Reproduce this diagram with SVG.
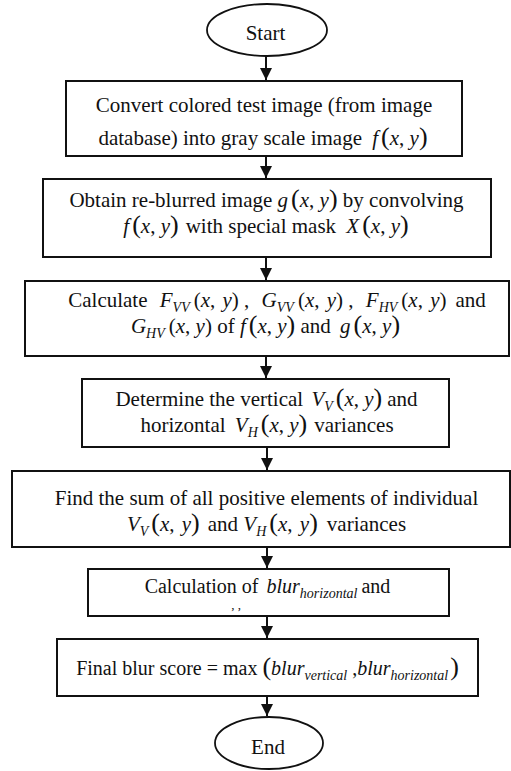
<svg xmlns="http://www.w3.org/2000/svg" width="511" height="771" viewBox="0 0 511 771">
<style>
.bg{fill:#fff}
.box{fill:#fff;stroke:#111;stroke-width:2}
.term{fill:#fff;stroke:#111;stroke-width:1.8}
.t{font-family:"Liberation Serif","Times New Roman",serif;font-size:21px;fill:#111;text-anchor:middle}
.i{font-style:italic}
.p{font-size:26px}
.s{font-size:14px;font-style:italic}
.c{stroke:#111;stroke-width:2;fill:none}
</style>
<defs>
<marker id="ah" markerUnits="userSpaceOnUse" markerWidth="12" markerHeight="12" refX="12" refY="6" orient="auto">
<path d="M0,0 L12,6 L0,12 Z" fill="#111"/>
</marker>
</defs>
<rect class="bg" x="0" y="0" width="511" height="771"/>
<g id="connectors">
<line class="c" x1="266" y1="56" x2="266" y2="80" marker-end="url(#ah)"/>
<line class="c" x1="266" y1="156" x2="266" y2="178" marker-end="url(#ah)"/>
<line class="c" x1="266" y1="257" x2="266" y2="280" marker-end="url(#ah)"/>
<line class="c" x1="266" y1="356" x2="266" y2="378" marker-end="url(#ah)"/>
<line class="c" x1="267" y1="447" x2="267" y2="470" marker-end="url(#ah)"/>
<line class="c" x1="267" y1="547" x2="267" y2="568" marker-end="url(#ah)"/>
<line class="c" x1="267" y1="616" x2="267" y2="638" marker-end="url(#ah)"/>
<line class="c" x1="267" y1="696" x2="267" y2="716" marker-end="url(#ah)"/>
</g>
<g id="start">
<ellipse class="term" cx="267" cy="30" rx="60" ry="26"/>
<text class="t" x="265.5" y="40">Start</text>
</g>
<g id="convert">
<rect class="box" x="66" y="81" width="396" height="75"/>
<text class="t" x="264" y="112">Convert colored test image (from image</text>
<text class="t" x="263" y="145">database) into gray scale image <tspan class="i" dx="5">f</tspan><tspan class="p" dx="3">(</tspan><tspan class="i">x</tspan>, <tspan class="i">y</tspan><tspan class="p">)</tspan></text>
</g>
<g id="reblur">
<rect class="box" x="43" y="179" width="448" height="78"/>
<text class="t" x="266.5" y="207">Obtain re-blurred image <tspan class="i">g</tspan><tspan class="p" dx="3">(</tspan><tspan class="i">x</tspan>, <tspan class="i">y</tspan><tspan class="p">)</tspan> by convolving</text>
<text class="t" x="266" y="233"><tspan class="i">f</tspan><tspan class="p" dx="3">(</tspan><tspan class="i">x</tspan>, <tspan class="i">y</tspan><tspan class="p">)</tspan><tspan dx="7">with special mask </tspan><tspan class="i" dx="5">X</tspan><tspan class="p" dx="3">(</tspan><tspan class="i">x</tspan>, <tspan class="i">y</tspan><tspan class="p">)</tspan></text>
</g>
<g id="calculate">
<rect class="box" x="25" y="281" width="484" height="75"/>
<text class="t" x="277" y="307">Calculate <tspan class="i" dx="7">F</tspan><tspan class="s" dy="5">VV</tspan><tspan dy="-5" dx="4">(</tspan><tspan class="i">x</tspan>, <tspan class="i" dx="2">y</tspan>) , <tspan class="i" dx="7">G</tspan><tspan class="s" dy="5">VV</tspan><tspan dy="-5" dx="4">(</tspan><tspan class="i">x</tspan>, <tspan class="i" dx="2">y</tspan>) , <tspan class="i" dx="7">F</tspan><tspan class="s" dy="5">HV</tspan><tspan dy="-5" dx="4">(</tspan><tspan class="i">x</tspan>, <tspan class="i" dx="2">y</tspan>)<tspan dx="9">and</tspan></text>
<text class="t" x="265.5" y="333"><tspan class="i">G</tspan><tspan class="s" dy="5">HV</tspan><tspan dy="-5" dx="4">(</tspan><tspan class="i">x</tspan>, <tspan class="i">y</tspan>) of <tspan class="i">f</tspan><tspan class="p" dx="3">(</tspan><tspan class="i">x</tspan>, <tspan class="i">y</tspan><tspan class="p">)</tspan> and <tspan class="i" dx="4">g</tspan><tspan class="p" dx="3">(</tspan><tspan class="i">x</tspan>, <tspan class="i">y</tspan><tspan class="p">)</tspan></text>
</g>
<g id="variances">
<rect class="box" x="82" y="379" width="367" height="68"/>
<text class="t" x="266.5" y="406">Determine the vertical <tspan class="i" dx="3">V</tspan><tspan class="s" dy="5">V</tspan><tspan class="p" dy="-5" dx="3">(</tspan><tspan class="i">x</tspan>, <tspan class="i">y</tspan><tspan class="p">)</tspan><tspan dx="5">and</tspan></text>
<text class="t" x="267" y="432">horizontal <tspan class="i" dx="4">V</tspan><tspan class="s" dy="5">H</tspan><tspan class="p" dy="-5" dx="3">(</tspan><tspan class="i">x</tspan>, <tspan class="i">y</tspan><tspan class="p">)</tspan><tspan dx="7">variances</tspan></text>
</g>
<g id="sum">
<rect class="box" x="12" y="471" width="498" height="76"/>
<text class="t" x="266.5" y="505">Find the sum of all positive elements of individual</text>
<text class="t" x="266.5" y="531"><tspan class="i">V</tspan><tspan class="s" dy="5">V</tspan><tspan class="p" dy="-5" dx="3">(</tspan><tspan class="i">x</tspan>, <tspan class="i" dx="2">y</tspan><tspan class="p">)</tspan><tspan dx="8">and</tspan> <tspan class="i">V</tspan><tspan class="s" dy="5">H</tspan><tspan class="p" dy="-5" dx="3">(</tspan><tspan class="i">x</tspan>, <tspan class="i" dx="2">y</tspan><tspan class="p">)</tspan><tspan dx="9">variances</tspan></text>
</g>
<g id="blurcalc">
<rect class="box" x="88" y="569" width="361" height="47"/>
<text class="t" x="267.5" y="593" style="font-size:20px">Calculation of <tspan class="i" dx="3">blur</tspan><tspan class="s" dy="5">horizontal</tspan><tspan dy="-5" dx="4">and</tspan></text>
<text class="t" x="236" y="609" style="font-size:13px">, ,</text>
</g>
<g id="final">
<rect class="box" x="57" y="639" width="421" height="57"/>
<text class="t" x="267.5" y="675" style="font-size:20px">Final blur score = max <tspan class="p">(</tspan><tspan class="i">blur</tspan><tspan class="s" dy="5">vertical</tspan><tspan dy="-5"> ,</tspan><tspan class="i">blur</tspan><tspan class="s" dy="5">horizontal</tspan><tspan class="p" dy="-5" dx="2">)</tspan></text>
</g>
<g id="end">
<ellipse class="term" cx="269" cy="743" rx="54" ry="26"/>
<text class="t" x="268" y="754">End</text>
</g>
</svg>
